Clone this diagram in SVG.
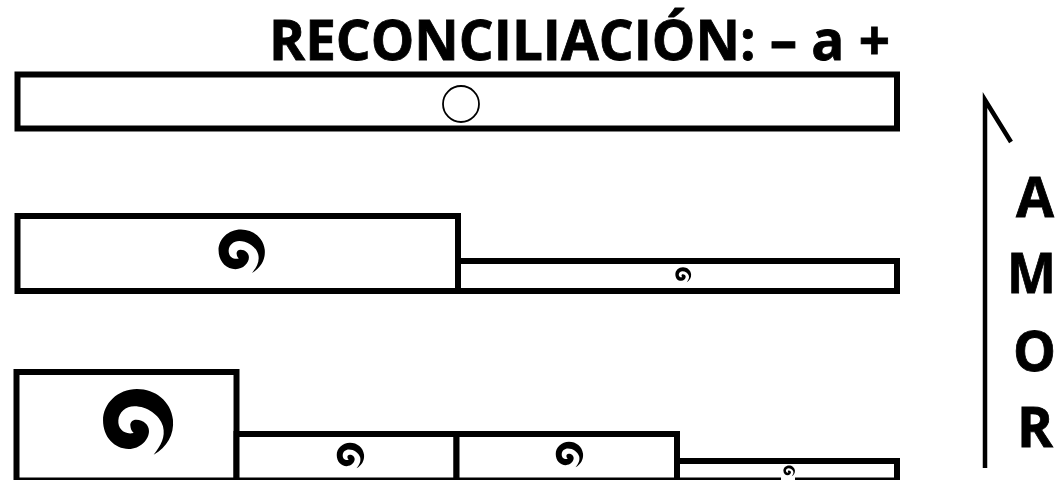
<svg xmlns="http://www.w3.org/2000/svg" width="1056" height="480" viewBox="0 0 1056 480">
<style>
.box{fill:#fff;stroke:#000;stroke-width:6;stroke-linejoin:miter}
.t{font-family:"Open Sans","Liberation Sans",sans-serif;font-weight:700;fill:#000;stroke:#000;stroke-width:.8}
.l{font-size:56px}
.a{fill:none;stroke:#000;stroke-width:4.500}
</style>
<defs>
<path id="sp" d="M50,95 C90,72 112,35 108,-10 C102,-65 55,-102 0,-102 C-58,-102 -102,-58 -102,-8 C-102,42 -68,78 -25,78 C10,78 36,50 36,24 C36,6 20,-10 -2,-10 C-14,-10 -21,-2 -20,8 C-19,18 -16,24 -10,30 C-38,36 -58,18 -56,-8 C-54,-32 -34,-50 -8,-50 C30,-50 68,-24 78,10 C86,42 72,68 50,95 Z"/>
<filter id="b" x="-10%" y="-10%" width="120%" height="120%"><feGaussianBlur stdDeviation="0.7"/></filter>
</defs>
<rect width="1056" height="480" fill="#fff"/>
<text class="t" x="269" y="60" font-size="56" textLength="621" lengthAdjust="spacingAndGlyphs">RECONCILIACIÓN: – a +</text>
<g id="n1"><rect class="box" x="17.500" y="74.500" width="879.500" height="54"/><circle cx="461" cy="104" r="18" fill="#fff" stroke="#000" stroke-width="1.800"/></g>
<g id="n2"><rect class="box" x="17.500" y="216" width="440.500" height="75"/><use href="#sp" transform="translate(241,252) scale(.22)" filter="url(#b)"/></g>
<g id="n3"><rect class="box" x="458" y="261" width="439" height="30"/><use href="#sp" transform="translate(683,275) scale(.075)"/></g>
<g id="n4"><rect class="box" x="16.500" y="372" width="220" height="108.500"/><use href="#sp" transform="translate(137,423) scale(.333)" filter="url(#b)"/></g>
<g id="n5"><rect class="box" x="236.500" y="434" width="220" height="46.500"/><use href="#sp" transform="translate(350,456) scale(.13)"/></g>
<g id="n6"><rect class="box" x="456.500" y="434" width="220.500" height="46.500"/><use href="#sp" transform="translate(569,455) scale(.13)"/></g>
<g id="n7"><rect class="box" x="677" y="461" width="220" height="19.500"/><rect x="781" y="477" width="14" height="3" fill="#fff"/><use href="#sp" transform="translate(789,471) scale(.055)"/></g>
<g id="connectors"><path class="a" d="M985,468 V100 L1011,142"/></g>
<g id="label"><text class="t l" x="1016" y="217" textLength="38" lengthAdjust="spacingAndGlyphs">A</text><text class="t l" x="1007" y="293" textLength="49" lengthAdjust="spacingAndGlyphs">M</text><text class="t l" x="1013" y="371" textLength="43" lengthAdjust="spacingAndGlyphs">O</text><text class="t l" x="1017" y="447" textLength="36" lengthAdjust="spacingAndGlyphs">R</text></g>
</svg>
